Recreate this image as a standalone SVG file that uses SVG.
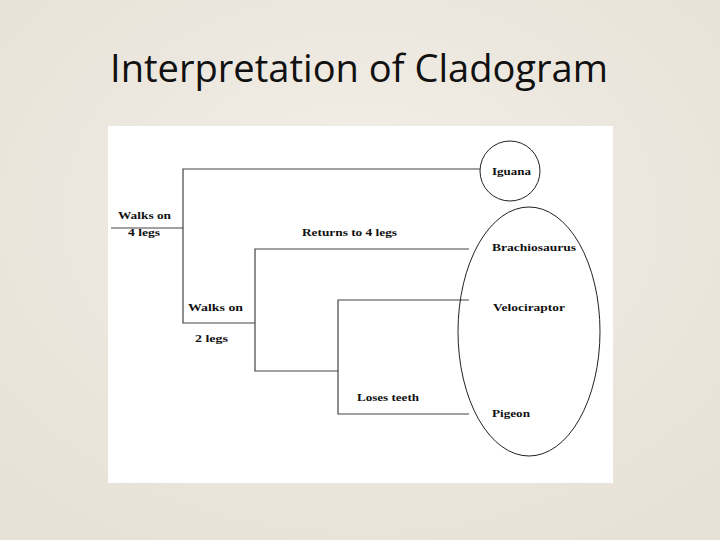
<svg xmlns="http://www.w3.org/2000/svg" width="720" height="540" viewBox="0 0 720 540">
<defs>
<style>
.lbl{font-family:"Liberation Serif","Times New Roman",serif;font-weight:bold;font-size:11px;fill:#111}
.ln{stroke:#444;stroke-width:1.2;fill:none}
.shape{stroke:#222;stroke-width:1;fill:none}
.title{font-family:"Open Sans","Liberation Sans",sans-serif;font-size:38px;fill:#111}
</style>
<radialGradient id="bg" cx="50%" cy="40%" r="75%">
<stop offset="0" stop-color="#f3efe8"/>
<stop offset="1" stop-color="#e6e0d5"/>
</radialGradient>
</defs>
<rect x="0" y="0" width="720" height="540" fill="url(#bg)"/>
<text class="title" x="110" y="82" textLength="498" lengthAdjust="spacingAndGlyphs">Interpretation of Cladogram</text>
<rect x="108" y="126" width="505" height="357" fill="#ffffff"/>
<g id="connectors">
<polyline class="ln" points="111,228 183,228"/>
<polyline class="ln" points="480,169 183,169 183,323 255,323"/>
<polyline class="ln" points="469,249 255,249 255,371 338,371"/>
<polyline class="ln" points="469,300 338,300 338,414 469,414"/>
</g>
<g id="iguana">
<circle class="shape" cx="510" cy="171" r="30"/>
<text class="lbl" x="492" y="175" textLength="39" lengthAdjust="spacingAndGlyphs">Iguana</text>
</g>
<g id="dinosaurs">
<ellipse class="shape" cx="529" cy="331.5" rx="71" ry="124.5"/>
</g>
<g id="brachiosaurus">
<text class="lbl" x="492" y="251" textLength="84" lengthAdjust="spacingAndGlyphs">Brachiosaurus</text>
</g>
<g id="velociraptor">
<text class="lbl" x="493" y="311" textLength="72" lengthAdjust="spacingAndGlyphs">Velociraptor</text>
</g>
<g id="pigeon">
<text class="lbl" x="492" y="417" textLength="38" lengthAdjust="spacingAndGlyphs">Pigeon</text>
</g>
<g id="trait-4legs">
<text class="lbl" x="118" y="219" textLength="53" lengthAdjust="spacingAndGlyphs">Walks on</text>
<text class="lbl" x="128" y="236" textLength="32" lengthAdjust="spacingAndGlyphs">4 legs</text>
</g>
<g id="trait-2legs">
<text class="lbl" x="188" y="311" textLength="55" lengthAdjust="spacingAndGlyphs">Walks on</text>
<text class="lbl" x="195" y="342" textLength="33" lengthAdjust="spacingAndGlyphs">2 legs</text>
</g>
<g id="trait-returns">
<text class="lbl" x="302" y="236" textLength="95" lengthAdjust="spacingAndGlyphs">Returns to 4 legs</text>
</g>
<g id="trait-teeth">
<text class="lbl" x="357" y="401" textLength="62" lengthAdjust="spacingAndGlyphs">Loses teeth</text>
</g>
</svg>
